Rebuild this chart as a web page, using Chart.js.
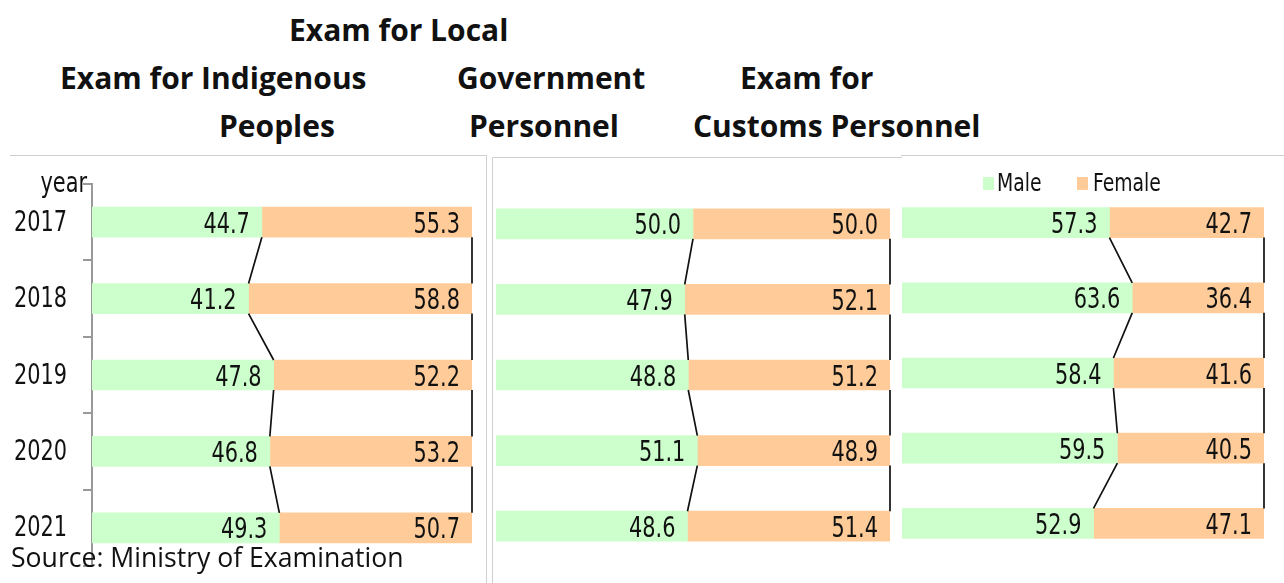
<!DOCTYPE html>
<html>
<head>
<meta charset="utf-8">
<script src="https://cdn.jsdelivr.net/npm/chart.js@4.4.1/dist/chart.umd.min.js"></script>
<style>
  body { margin: 0; width: 1284px; height: 583px; background: #fff; position: relative; overflow: hidden; font-family: "Open Sans", sans-serif; color: #111; }
  .title { position: absolute; font-weight: 700; font-size: 30px; line-height: 48px; white-space: nowrap; }
  .box { position: absolute; box-sizing: border-box; border: 0 solid #cfcfcf; }
  canvas { position: absolute; display: block; }
  .leg { position: absolute; font-family: "DejaVu Sans Condensed", sans-serif; font-size: 24px; line-height: 26px; white-space: nowrap; transform: scaleX(0.87); transform-origin: left center; }
  .sw { position: absolute; width: 11px; height: 13px; }
  #source { position: absolute; left: 11px; top: 540px; font-size: 26.6px; line-height: 34px; white-space: nowrap; }
</style>
</head>
<body>
<div class="title" style="left:289px; top:6px;">Exam for Local</div>
<div class="title" style="left:60px; top:54px;">Exam for Indigenous</div>
<div class="title" style="left:457px; top:54px;">Government</div>
<div class="title" style="left:740px; top:54px;">Exam for</div>
<div class="title" style="left:219px; top:102px;">Peoples</div>
<div class="title" style="left:469px; top:102px;">Personnel</div>
<div class="title" style="left:693px; top:102px;">Customs Personnel</div>

<div class="box" style="left:10px; top:155px; width:477px; height:428px; border-top-width:1px; border-right-width:1px;"></div>
<div class="box" style="left:492px; top:157px; width:410px; height:426px; border-top-width:1px; border-left-width:1px;"></div>
<div class="box" style="left:901px; top:155px; width:383px; height:428px; border-top-width:1px;"></div>

<canvas id="c1" width="486" height="427" style="left:0; top:156px;"></canvas>
<canvas id="c2" width="408" height="425" style="left:492px; top:158px;"></canvas>
<canvas id="c3" width="384" height="427" style="left:900px; top:156px;"></canvas>

<div class="sw" style="left:983px; top:177px; background:#ccffcc;"></div>
<div class="leg" style="left:997px; top:170px;">Male</div>
<div class="sw" style="left:1077px; top:177px; background:#ffcc99;"></div>
<div class="leg" style="left:1093px; top:170px;">Female</div>

<div id="source">Source: Ministry of Examination</div>

<script>
const years = ['2017', '2018', '2019', '2020', '2021'];
const indigenousMale = [44.7, 41.2, 47.8, 46.8, 49.3];
const indigenousFemale = [55.3, 58.8, 52.2, 53.2, 50.7];
const localMale = [50.0, 47.9, 48.8, 51.1, 48.6];
const localFemale = [50.0, 52.1, 51.2, 48.9, 51.4];
const customsMale = [57.3, 63.6, 58.4, 59.5, 52.9];
const customsFemale = [42.7, 36.4, 41.6, 40.5, 47.1];

const NARROW = '"DejaVu Sans Condensed", sans-serif';
const MALE_COLOR = '#ccffcc';
const FEMALE_COLOR = '#ffcc99';

// the original uses a tall narrow face, so squeeze the condensed one a bit more
function narrowText(ctx, text, x, y) {
  ctx.save();
  ctx.translate(x, y);
  ctx.scale(0.8, 1);
  ctx.font = '29px ' + NARROW;
  ctx.fillStyle = '#111';
  ctx.textAlign = 'right';
  ctx.textBaseline = 'middle';
  ctx.fillText(text, 0, 0);
  ctx.restore();
}

// lines joining the segment edges of neighbouring bars
const connectors = {
  id: 'connectors',
  afterDatasetsDraw(chart) {
    const ctx = chart.ctx;
    const m = chart.getDatasetMeta(0).data;
    const f = chart.getDatasetMeta(1).data;
    ctx.save();
    ctx.strokeStyle = '#111';
    ctx.lineWidth = 1.7;
    for (let i = 0; i < m.length - 1; i++) {
      const y0 = m[i].y + m[i].height / 2;
      const y1 = m[i + 1].y - m[i + 1].height / 2;
      ctx.beginPath();
      ctx.moveTo(m[i].x, y0);
      ctx.lineTo(m[i + 1].x, y1);
      ctx.moveTo(f[i].x, y0);
      ctx.lineTo(f[i + 1].x, y1);
      ctx.stroke();
    }
    ctx.restore();
  }
};

const valueLabels = {
  id: 'valueLabels',
  afterDatasetsDraw(chart) {
    chart.data.datasets.forEach((ds, di) => {
      chart.getDatasetMeta(di).data.forEach((bar, i) => {
        narrowText(chart.ctx, ds.data[i].toFixed(1), bar.x - 12, bar.y + 3);
      });
    });
  }
};

// year labels and the "year" axis caption, placed by the category scale
const yearLabels = {
  id: 'yearLabels',
  afterDraw(chart) {
    const y = chart.scales.y;
    chart.data.labels.forEach((lab, i) => {
      narrowText(chart.ctx, lab, 67, y.getPixelForValue(i) + 1);
    });
    narrowText(chart.ctx, 'year', 87, y.top);
  }
};

function makePanel(id, male, female, padding, showYears) {
  const plugins = [connectors, valueLabels];
  if (showYears) plugins.push(yearLabels);
  const yScale = {
    stacked: true,
    display: showYears,
    grid: { offset: true, drawOnChartArea: false, drawTicks: true, tickLength: 9, color: '#999', lineWidth: 2 },
    border: { display: true, color: '#999', width: 2 },
    ticks: { display: false }
  };
  if (showYears) {
    yScale.afterFit = s => { s.width = 92; s.paddingTop = 0; s.paddingBottom = 0; };
  }
  return new Chart(document.getElementById(id), {
    type: 'bar',
    data: {
      labels: years,
      datasets: [
        { label: 'Male', data: male, backgroundColor: MALE_COLOR, barThickness: 30 },
        { label: 'Female', data: female, backgroundColor: FEMALE_COLOR, barThickness: 30 }
      ]
    },
    options: {
      indexAxis: 'y',
      responsive: false,
      animation: false,
      devicePixelRatio: 1,
      layout: { padding: padding },
      plugins: { legend: { display: false }, tooltip: { enabled: false } },
      scales: {
        x: { stacked: true, min: 0, max: 100, display: false },
        y: yScale
      }
    },
    plugins: plugins
  });
}

makePanel('c1', indigenousMale, indigenousFemale, { left: 0, right: 14, top: 28, bottom: 17 }, true);
makePanel('c2', localMale, localFemale, { left: 4, right: 10, top: 28, bottom: 19 }, false);
makePanel('c3', customsMale, customsFemale, { left: 2, right: 20, top: 29, bottom: 22 }, false);
</script>
</body>
</html>
